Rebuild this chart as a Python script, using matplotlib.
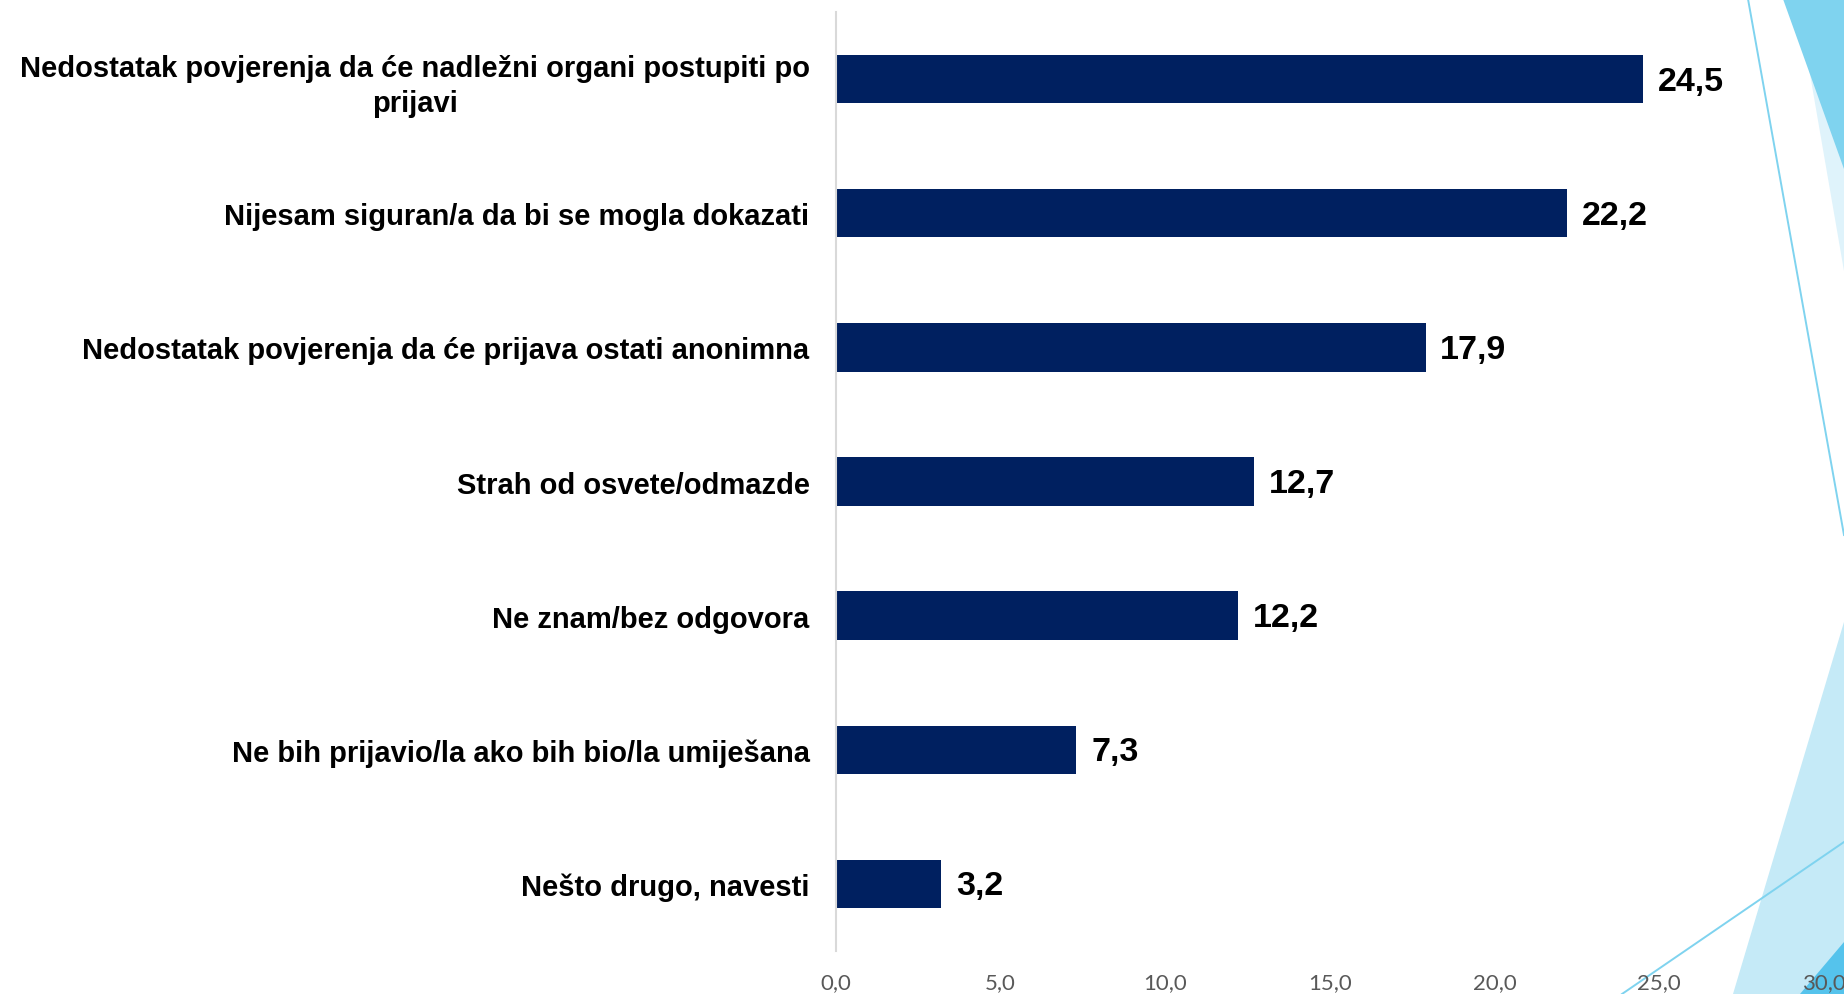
import matplotlib.pyplot as plt
from matplotlib.patches import Polygon
from matplotlib.lines import Line2D
import numpy as np

# data
categories = [
    "Nedostatak povjerenja da će nadležni organi postupiti po\nprijavi",
    "Nijesam siguran/a da bi se mogla dokazati",
    "Nedostatak povjerenja da će prijava ostati anonimna",
    "Strah od osvete/odmazde",
    "Ne znam/bez odgovora",
    "Ne bih prijavio/la ako bih bio/la umiješana",
    "Nešto drugo, navesti",
]
values = [24.5, 22.2, 17.9, 12.7, 12.2, 7.3, 3.2]
xticks = [0, 5, 10, 15, 20, 25, 30]

W, H = 1844, 995
fig = plt.figure(figsize=(W / 100, H / 100), dpi=100)


def px(pts):
    # pixel coords (from top-left) -> figure fractions
    return [(x / W, 1 - y / H) for x, y in pts]


# background decorations (slide template), kept behind the axes
fig.patches.append(Polygon(px([(1797, 0), (1844, 0), (1844, 272)]), closed=True,
                           facecolor='#dff3fb', edgecolor='none',
                           transform=fig.transFigure, zorder=-2))
fig.patches.append(Polygon(px([(1783, 0), (1844, 0), (1844, 170)]), closed=True,
                           facecolor='#7fd3ef', edgecolor='none',
                           transform=fig.transFigure, zorder=-2))
fig.patches.append(Polygon(px([(1733, 995), (1844, 623), (1844, 995)]), closed=True,
                           facecolor='#c5eaf7', edgecolor='none',
                           transform=fig.transFigure, zorder=-2))
fig.patches.append(Polygon(px([(1800, 995), (1844, 943), (1844, 995)]), closed=True,
                           facecolor='#55c3ec', edgecolor='none',
                           transform=fig.transFigure, zorder=-2))
for p0, p1 in [((1748, 0), (1844, 536)), ((1622, 995), (1844, 843))]:
    (x0, y0), (x1, y1) = px([p0, p1])
    fig.lines.append(Line2D([x0, x1], [y0, y1], color='#7fd3ef', lw=1.4,
                            transform=fig.transFigure, zorder=-1))

ax = fig.add_axes([836 / W, 1 - 952 / H, (1824 - 836) / W, (952 - 13) / H])
ax.patch.set_visible(False)

y = np.arange(len(categories))
bars = ax.barh(y, values, height=0.36, color='#002060', zorder=2)

ax.set_xlim(0, 30)
ax.set_ylim(len(categories) - 0.5, -0.5)

ax.set_yticks(y)
ax.set_yticklabels(categories, fontsize=21, fontweight='bold',
                   family='Liberation Sans', multialignment='center',
                   linespacing=1.32)
ax.set_xticks(xticks)
ax.set_xticklabels([f"{t:.1f}".replace('.', ',') for t in xticks],
                   fontsize=16, color='#595959', family='Lato')

ax.tick_params(axis='y', length=0, pad=19)
ax.tick_params(axis='x', length=0, pad=15)

for s in ['top', 'right', 'bottom']:
    ax.spines[s].set_visible(False)
ax.spines['left'].set_color('#d9d9d9')
ax.spines['left'].set_linewidth(1.5)

for yi, v in zip(y, values):
    ax.text(v + 0.45, yi + 0.015, f"{v:.1f}".replace('.', ','), va='center', ha='left',
            fontsize=24.5, fontweight='bold', family='Liberation Sans', color='black')

fig.savefig('out.png', dpi=100)
